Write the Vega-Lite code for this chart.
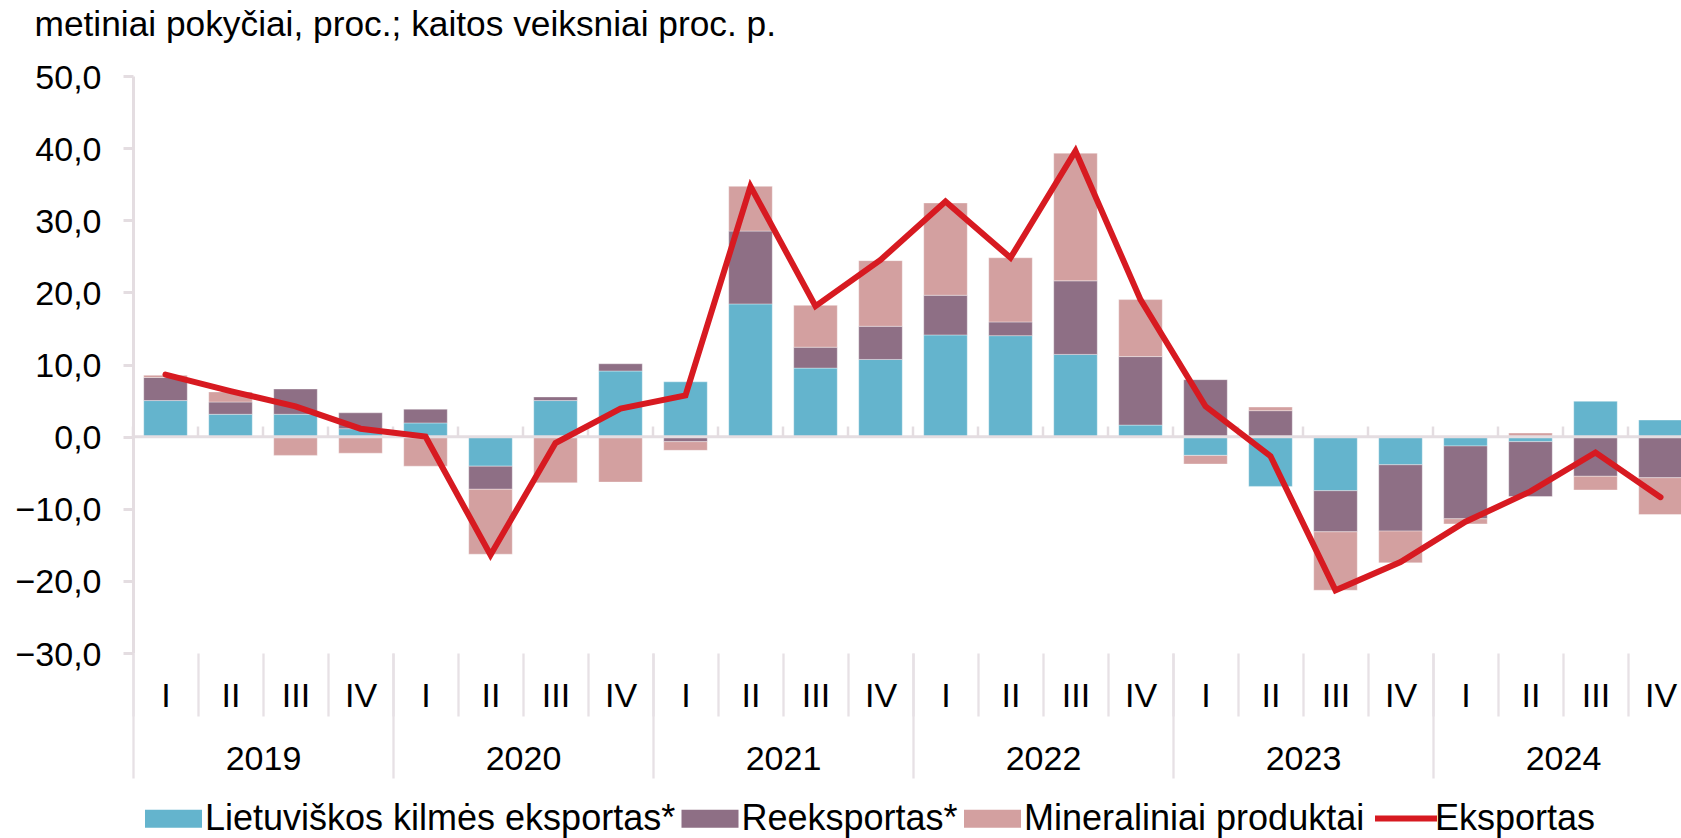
{
  "$schema": "https://vega.github.io/schema/vega-lite/v6.json",
  "autosize": {"type": "none"},
  "width": 1548,
  "height": 577,
  "padding": {"left": 133, "top": 76, "right": 0, "bottom": 185},
  "background": "white",
  "config": {"view": {"stroke": null}, "font": "Liberation Sans", "axis": {"grid": false}},
  "datasets": {
    "bars": [
      {"key": "2019 I", "series": "Lietuviškos kilmės eksportas*", "ord": 1, "value": 5.0},
      {"key": "2019 I", "series": "Reeksportas*", "ord": 2, "value": 3.2},
      {"key": "2019 I", "series": "Mineraliniai produktai", "ord": 3, "value": 0.3},
      {"key": "2019 II", "series": "Lietuviškos kilmės eksportas*", "ord": 1, "value": 3.1},
      {"key": "2019 II", "series": "Reeksportas*", "ord": 2, "value": 1.7},
      {"key": "2019 II", "series": "Mineraliniai produktai", "ord": 3, "value": 1.4},
      {"key": "2019 III", "series": "Lietuviškos kilmės eksportas*", "ord": 1, "value": 3.1},
      {"key": "2019 III", "series": "Reeksportas*", "ord": 2, "value": 3.5},
      {"key": "2019 III", "series": "Mineraliniai produktai", "ord": 3, "value": -2.6},
      {"key": "2019 IV", "series": "Lietuviškos kilmės eksportas*", "ord": 1, "value": 1.1},
      {"key": "2019 IV", "series": "Reeksportas*", "ord": 2, "value": 2.2},
      {"key": "2019 IV", "series": "Mineraliniai produktai", "ord": 3, "value": -2.3},
      {"key": "2020 I", "series": "Lietuviškos kilmės eksportas*", "ord": 1, "value": 1.9},
      {"key": "2020 I", "series": "Reeksportas*", "ord": 2, "value": 1.9},
      {"key": "2020 I", "series": "Mineraliniai produktai", "ord": 3, "value": -4.1},
      {"key": "2020 II", "series": "Lietuviškos kilmės eksportas*", "ord": 1, "value": -4.1},
      {"key": "2020 II", "series": "Reeksportas*", "ord": 2, "value": -3.2},
      {"key": "2020 II", "series": "Mineraliniai produktai", "ord": 3, "value": -9.0},
      {"key": "2020 III", "series": "Lietuviškos kilmės eksportas*", "ord": 1, "value": 5.0},
      {"key": "2020 III", "series": "Reeksportas*", "ord": 2, "value": 0.5},
      {"key": "2020 III", "series": "Mineraliniai produktai", "ord": 3, "value": -6.4},
      {"key": "2020 IV", "series": "Lietuviškos kilmės eksportas*", "ord": 1, "value": 9.1},
      {"key": "2020 IV", "series": "Reeksportas*", "ord": 2, "value": 1.0},
      {"key": "2020 IV", "series": "Mineraliniai produktai", "ord": 3, "value": -6.3},
      {"key": "2021 I", "series": "Lietuviškos kilmės eksportas*", "ord": 1, "value": 7.6},
      {"key": "2021 I", "series": "Reeksportas*", "ord": 2, "value": -0.7},
      {"key": "2021 I", "series": "Mineraliniai produktai", "ord": 3, "value": -1.2},
      {"key": "2021 II", "series": "Lietuviškos kilmės eksportas*", "ord": 1, "value": 18.4},
      {"key": "2021 II", "series": "Reeksportas*", "ord": 2, "value": 10.1},
      {"key": "2021 II", "series": "Mineraliniai produktai", "ord": 3, "value": 6.2},
      {"key": "2021 III", "series": "Lietuviškos kilmės eksportas*", "ord": 1, "value": 9.5},
      {"key": "2021 III", "series": "Reeksportas*", "ord": 2, "value": 2.9},
      {"key": "2021 III", "series": "Mineraliniai produktai", "ord": 3, "value": 5.8},
      {"key": "2021 IV", "series": "Lietuviškos kilmės eksportas*", "ord": 1, "value": 10.7},
      {"key": "2021 IV", "series": "Reeksportas*", "ord": 2, "value": 4.6},
      {"key": "2021 IV", "series": "Mineraliniai produktai", "ord": 3, "value": 9.1},
      {"key": "2022 I", "series": "Lietuviškos kilmės eksportas*", "ord": 1, "value": 14.1},
      {"key": "2022 I", "series": "Reeksportas*", "ord": 2, "value": 5.5},
      {"key": "2022 I", "series": "Mineraliniai produktai", "ord": 3, "value": 12.8},
      {"key": "2022 II", "series": "Lietuviškos kilmės eksportas*", "ord": 1, "value": 14.0},
      {"key": "2022 II", "series": "Reeksportas*", "ord": 2, "value": 1.9},
      {"key": "2022 II", "series": "Mineraliniai produktai", "ord": 3, "value": 8.9},
      {"key": "2022 III", "series": "Lietuviškos kilmės eksportas*", "ord": 1, "value": 11.4},
      {"key": "2022 III", "series": "Reeksportas*", "ord": 2, "value": 10.2},
      {"key": "2022 III", "series": "Mineraliniai produktai", "ord": 3, "value": 17.7},
      {"key": "2022 IV", "series": "Lietuviškos kilmės eksportas*", "ord": 1, "value": 1.6},
      {"key": "2022 IV", "series": "Reeksportas*", "ord": 2, "value": 9.5},
      {"key": "2022 IV", "series": "Mineraliniai produktai", "ord": 3, "value": 7.9},
      {"key": "2023 I", "series": "Lietuviškos kilmės eksportas*", "ord": 1, "value": -2.6},
      {"key": "2023 I", "series": "Reeksportas*", "ord": 2, "value": 7.9},
      {"key": "2023 I", "series": "Mineraliniai produktai", "ord": 3, "value": -1.2},
      {"key": "2023 II", "series": "Lietuviškos kilmės eksportas*", "ord": 1, "value": -6.9},
      {"key": "2023 II", "series": "Reeksportas*", "ord": 2, "value": 3.6},
      {"key": "2023 II", "series": "Mineraliniai produktai", "ord": 3, "value": 0.5},
      {"key": "2023 III", "series": "Lietuviškos kilmės eksportas*", "ord": 1, "value": -7.5},
      {"key": "2023 III", "series": "Reeksportas*", "ord": 2, "value": -5.7},
      {"key": "2023 III", "series": "Mineraliniai produktai", "ord": 3, "value": -8.1},
      {"key": "2023 IV", "series": "Lietuviškos kilmės eksportas*", "ord": 1, "value": -3.9},
      {"key": "2023 IV", "series": "Reeksportas*", "ord": 2, "value": -9.2},
      {"key": "2023 IV", "series": "Mineraliniai produktai", "ord": 3, "value": -4.4},
      {"key": "2024 I", "series": "Lietuviškos kilmės eksportas*", "ord": 1, "value": -1.3},
      {"key": "2024 I", "series": "Reeksportas*", "ord": 2, "value": -10.1},
      {"key": "2024 I", "series": "Mineraliniai produktai", "ord": 3, "value": -0.7},
      {"key": "2024 II", "series": "Lietuviškos kilmės eksportas*", "ord": 1, "value": -0.7},
      {"key": "2024 II", "series": "Reeksportas*", "ord": 2, "value": -7.6},
      {"key": "2024 II", "series": "Mineraliniai produktai", "ord": 3, "value": 0.5},
      {"key": "2024 III", "series": "Lietuviškos kilmės eksportas*", "ord": 1, "value": 4.9},
      {"key": "2024 III", "series": "Reeksportas*", "ord": 2, "value": -5.5},
      {"key": "2024 III", "series": "Mineraliniai produktai", "ord": 3, "value": -1.9},
      {"key": "2024 IV", "series": "Lietuviškos kilmės eksportas*", "ord": 1, "value": 2.3},
      {"key": "2024 IV", "series": "Reeksportas*", "ord": 2, "value": -5.7},
      {"key": "2024 IV", "series": "Mineraliniai produktai", "ord": 3, "value": -5.1}
    ],
    "total": [
      {"key": "2019 I", "value": 8.6},
      {"key": "2019 II", "value": 6.3},
      {"key": "2019 III", "value": 4.2},
      {"key": "2019 IV", "value": 1.1},
      {"key": "2020 I", "value": 0.0},
      {"key": "2020 II", "value": -16.4},
      {"key": "2020 III", "value": -0.9},
      {"key": "2020 IV", "value": 3.9},
      {"key": "2021 I", "value": 5.7},
      {"key": "2021 II", "value": 34.7},
      {"key": "2021 III", "value": 18.1},
      {"key": "2021 IV", "value": 24.5},
      {"key": "2022 I", "value": 32.6},
      {"key": "2022 II", "value": 24.8},
      {"key": "2022 III", "value": 39.6},
      {"key": "2022 IV", "value": 19.0},
      {"key": "2023 I", "value": 4.2},
      {"key": "2023 II", "value": -2.7},
      {"key": "2023 III", "value": -21.3},
      {"key": "2023 IV", "value": -17.4},
      {"key": "2024 I", "value": -11.8},
      {"key": "2024 II", "value": -7.6},
      {"key": "2024 III", "value": -2.2},
      {"key": "2024 IV", "value": -8.4}
    ],
    "zero": [{"value": 0}],
    "years": [
      {"year": "2019"}, {"year": "2020"}, {"year": "2021"},
      {"year": "2022"}, {"year": "2023"}, {"year": "2024"}
    ]
  },
  "layer": [
    {
      "layer": [
        {
          "data": {"name": "bars"},
          "mark": {"type": "bar", "width": {"band": 0.67}, "stroke": "#ffffff", "strokeWidth": 0.6, "strokeOpacity": 0.6},
          "encoding": {
            "x": {
              "field": "key", "type": "nominal", "sort": null,
              "scale": {
                "domain": ["2019 I","2019 II","2019 III","2019 IV","2020 I","2020 II","2020 III","2020 IV","2021 I","2021 II","2021 III","2021 IV","2022 I","2022 II","2022 III","2022 IV","2023 I","2023 II","2023 III","2023 IV","2024 I","2024 II","2024 III","2024 IV"],
                "range": [0, 1560], "paddingInner": 0, "paddingOuter": 0
              },
              "axis": {
                "orient": "bottom", "title": null, "domain": false,
                "tickBand": "extent", "tickSize": 63, "tickColor": "#e7e1e5", "tickWidth": 2.3,
                "labelExpr": "split(datum.value, ' ')[1]", "labelAngle": 0,
                "labelFontSize": 34, "labelFont": "Liberation Sans", "labelColor": "#000000",
                "labelBaseline": "middle", "labelPadding": -20, "labelOverlap": false, "labelBound": false, "labelFlush": false
              }
            },
            "y": {
              "field": "value", "type": "quantitative", "stack": "zero",
              "scale": {"domain": [-30, 50], "nice": false, "zero": false},
              "axis": {
                "values": [-30, -20, -10, 0, 10, 20, 30, 40, 50],
                "labelExpr": "replace(format(datum.value, '.1f'), '.', ',')",
                "grid": false,
                "domainColor": "#e4dde1", "domainWidth": 3,
                "tickColor": "#e4dde1", "tickWidth": 3, "tickSize": 10,
                "labelPadding": 22, "labelFontSize": 34, "labelFont": "Liberation Sans", "labelColor": "#000000",
                "labelOffset": 2, "labelOverlap": false, "labelFlush": false,
                "title": "metiniai pokyčiai, proc.; kaitos veiksniai proc. p.",
                "titleAngle": 0, "titleX": -99, "titleY": -41, "titleAlign": "left", "titleBaseline": "alphabetic",
                "titleFontSize": 35.3, "titleFontWeight": "normal", "titleColor": "#000000", "titleFont": "Liberation Sans"
              }
            },
            "fill": {
              "field": "series", "type": "nominal",
              "scale": {
                "domain": ["Lietuviškos kilmės eksportas*", "Reeksportas*", "Mineraliniai produktai"],
                "range": ["#64b4cd", "#8e6f85", "#d3a0a0"]
              },
              "legend": {
                "title": null, "orient": "none", "legendX": 12, "legendY": 714,
                "direction": "horizontal", "columns": 3, "columnPadding": 5.5, "labelOffset": 3,
                "labelFontSize": 36, "labelFont": "Liberation Sans", "labelColor": "#000000", "labelLimit": 0,
                "symbolSize": 3249, "symbolType": "M-1,-0.316H1V0.316H-1Z", "symbolStrokeWidth": 0,
                "padding": 0, "rowPadding": 0
              }
            },
            "order": {"field": "ord", "type": "quantitative"}
          }
        },
        {
          "data": {"name": "zero"},
          "mark": {"type": "rule", "color": "#e4dde1", "strokeWidth": 3},
          "encoding": {"y": {"field": "value", "type": "quantitative"}}
        },
        {
          "data": {"name": "total"},
          "mark": {"type": "rule", "color": "#e4dde1", "strokeWidth": 2.5},
          "encoding": {
            "x": {"field": "key", "type": "nominal", "bandPosition": 0},
            "y": {"datum": 0},
            "y2": {"datum": 1.4}
          }
        },
        {
          "data": {"name": "total"},
          "mark": {"type": "line", "strokeWidth": 6, "strokeCap": "round", "strokeJoin": "miter"},
          "encoding": {
            "x": {"field": "key", "type": "nominal"},
            "y": {"field": "value", "type": "quantitative"},
            "stroke": {
              "datum": "Eksportas",
              "scale": {"domain": ["Eksportas"], "range": ["#d71a21"]},
              "legend": {
                "title": null, "orient": "none", "legendX": 1239, "legendY": 708.5,
                "direction": "horizontal", "labelOffset": -5,
                "labelFontSize": 36, "labelFont": "Liberation Sans", "labelColor": "#000000", "labelLimit": 0,
                "symbolSize": 3844, "symbolType": "stroke", "symbolStrokeWidth": 6, "symbolStrokeColor": "#d71a21",
                "padding": 0, "rowPadding": 0
              }
            }
          }
        }
      ]
    },
    {
      "data": {"name": "years"},
      "mark": {"type": "rule", "opacity": 0},
      "encoding": {
        "x": {
          "field": "year", "type": "nominal", "sort": null,
          "scale": {"range": [0, 1560], "paddingInner": 0, "paddingOuter": 0},
          "axis": {
            "orient": "bottom", "title": null, "domain": false,
            "tickBand": "extent", "tickSize": 125, "tickColor": "#e7e1e5", "tickWidth": 2.3,
            "labelAngle": 0, "labelFontSize": 34, "labelFont": "Liberation Sans", "labelColor": "#000000",
            "labelBaseline": "middle", "labelPadding": -19, "labelOverlap": false, "labelBound": false, "labelFlush": false
          }
        }
      }
    }
  ],
  "resolve": {"scale": {"x": "independent"}, "axis": {"x": "independent"}}
}
